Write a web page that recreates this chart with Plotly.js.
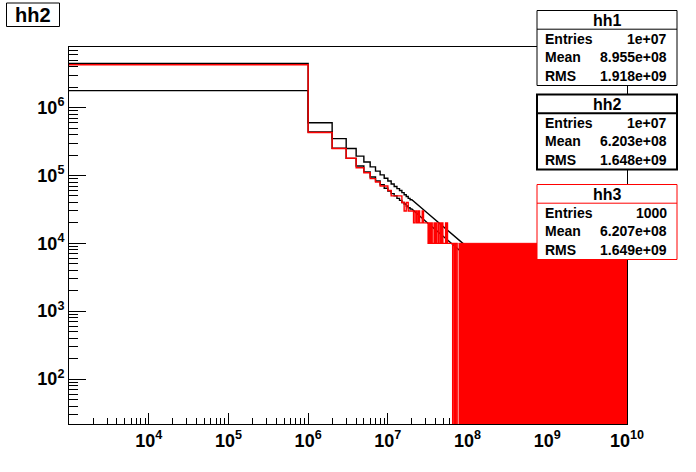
<!DOCTYPE html>
<html><head><meta charset="utf-8">
<script src="https://cdn.plot.ly/plotly-3.0.1.min.js"></script>
<style>html,body{margin:0;padding:0;background:#fff;} #chart{width:696px;height:472px;}</style>
</head><body><div id="chart"></div>
<script>
// ---------------- data ----------------
const BIN_WIDTH = 1e6;               // histogram bin width (bins start at 0)
// hh1: per-bin contents for the first 20 bins, then the fine staircase tail
const hh1Bins = [1.78e6, 6.0e5, 3.5e5, 2.5e5, 1.93e5, 1.58e5, 1.34e5, 1.16e5, 1.02e5, 9.1e4,
                 8.3e4, 7.5e4, 6.9e4, 6.4e4, 6.0e4, 5.6e4, 5.2e4, 4.9e4, 4.6e4, 4.4e4];
const hh1TailX = [3e7, 4e7, 5e7, 6e7, 8e7, 1e8, 1.3e8];
const hh1TailY = [2.93e4, 2.19e4, 1.75e4, 1.46e4, 1.09e4, 8.7e3, 6.7e3];
// hh2
const hh2Bins = [4.47e6, 4.37e5, 2.52e5, 1.79e5, 1.38e5, 1.13e5, 9.5e4, 8.3e4, 7.3e4, 6.5e4,
                 5.9e4, 5.4e4, 5.0e4, 4.6e4, 4.3e4, 4.0e4, 3.8e4, 3.55e4, 3.35e4, 3.2e4];
const hh2TailX = [3e7, 4e7, 5e7, 6e7, 8e7, 1e8, 1.3e8];
const hh2TailY = [2.1e4, 1.57e4, 1.25e4, 1.04e4, 7.8e3, 6.2e3, 4.8e3];
// hh3: per-bin contents (bins 1..77), zero bins drop to the frame bottom
const hh3Bins = [4.3e6, 4.3e5, 2.5e5, 1.8e5, 1.3e5, 1.1e5, 9e4, 8e4, 7e4, 7e4,
                 6e4, 5e4, 5e4, 5e4, 5e4, 4e4, 3e4, 4e4, 3e4, 3e4,
                 3e4, 2e4, 3e4, 2e4, 3e4, 2e4, 2e4, 3e4, 2e4, 2e4,
                 2e4, 2e4, 1e4, 2e4, 1e4, 2e4, 1e4, 1e4, 2e4, 1e4,
                 2e4, 1e4, 1e4, 2e4, 1e4, 1e4, 2e4, 1e4, 2e4, 1e4,
                 1e4, 1e4, 1e4, 2e4, 1e4, 2e4, 1e4, 1e4, 1e4, 1e4,
                 1e4, 1e4, 1e4, 1e4, 1e4, 0, 1e4, 1e4, 1e4, 0,
                 0, 1e4, 1e4, 1e4, 0, 0, 0];
// hh3 dense region (bins alternating 0 / 1e4, drawn solid)
const hh3DenseX = [7.7e7, 1e10];
const hh3DenseY = [1e4, 1e4];

const xTickVals = [1e4, 1e5, 1e6, 1e7, 1e8, 1e9, 1e10];
const xTickText = ['10<sup>4</sup>','10<sup>5</sup>','10<sup>6</sup>','10<sup>7</sup>','10<sup>8</sup>','10<sup>9</sup>','10<sup>10</sup>'];
const yTickVals = [1e2, 1e3, 1e4, 1e5, 1e6];
const yTickText = ['10<sup>2</sup>','10<sup>3</sup>','10<sup>4</sup>','10<sup>5</sup>','10<sup>6</sup>'];

const statNames   = ['hh1', 'hh2', 'hh3'];
const statEntries = ['1e+07', '1e+07', '1000'];
const statMeans   = ['8.955e+08', '6.203e+08', '6.207e+08'];
const statRMS     = ['1.918e+09', '1.648e+09', '1.649e+09'];
const statColors  = ['#000000', '#000000', '#ff0000'];
const statBorder  = [1, 2, 1];
const titleText = 'hh2';

// ---------------- layout constants ----------------
const W = 696, H = 472;
const M = {l: 69, r: 69, t: 47, b: 48};
const X_RANGE = [3, 10];
const Y_RANGE = [1.337, 6.894];
const X_MIN = Math.pow(10, X_RANGE[0]);
const Y_FLOOR = Math.pow(10, Y_RANGE[0] - 1);
const FONT = 'Liberation Sans, Arial, Helvetica, sans-serif';
const LW = 1.4;

function stepPath(values) {
  const xs = [], ys = [];
  values.forEach((v, i) => {
    const lo = i === 0 ? X_MIN : i * BIN_WIDTH;
    const hi = (i + 1) * BIN_WIDTH;
    const y = v > 0 ? v : Y_FLOOR;
    xs.push(lo, hi); ys.push(y, y);
  });
  return {xs, ys};
}
function withTail(p, tx, ty) {
  return {xs: p.xs.concat(tx), ys: p.ys.concat(ty)};
}

const p1 = withTail(stepPath(hh1Bins), hh1TailX, hh1TailY);
const p2 = withTail(stepPath(hh2Bins), hh2TailX, hh2TailY);
const p3 = stepPath(hh3Bins);

const traces = [
  {x: p2.xs, y: p2.ys, mode: 'lines', line: {color: '#000', width: LW}, hoverinfo: 'skip', name: 'hh2'},
  {x: p1.xs, y: p1.ys, mode: 'lines', line: {color: '#000', width: LW}, hoverinfo: 'skip', name: 'hh1'},
  {x: p3.xs, y: p3.ys, mode: 'lines', line: {color: '#ff0000', width: LW}, hoverinfo: 'skip', name: 'hh3'},
  {x: hh3DenseX, y: hh3DenseY, mode: 'lines', fill: 'tozeroy', fillcolor: '#ff0000',
   line: {color: '#ff0000', width: 1}, hoverinfo: 'skip', name: 'hh3 dense'}
];

// pixel -> paper helpers (layout only)
const pw = W - M.l - M.r, ph = H - M.t - M.b;
const PX = px => (px - M.l) / pw;
const PY = py => (H - M.b - py) / ph;

const shapes = [], annotations = [];
// title box
shapes.push({type: 'rect', xref: 'paper', yref: 'paper', x0: PX(6.5), x1: PX(59.5), y0: PY(26.5), y1: PY(3),
  line: {color: '#000', width: 1}, fillcolor: '#fff'});
annotations.push({xref: 'paper', yref: 'paper', x: PX(33), y: PY(15), text: titleText, showarrow: false,
  xanchor: 'center', yanchor: 'middle', font: {family: FONT, size: 20, weight: 'bold', color: '#000'}});

const boxTops = [10.5, 94.5, 184.5];
const boxX0 = 537, boxX1 = 677, boxH = 75, titleH = 18.7, rowH = (75 - 18.7) / 3;
statNames.forEach((nm, i) => {
  const t = boxTops[i], c = statColors[i];
  shapes.push({type: 'rect', xref: 'paper', yref: 'paper', x0: PX(boxX0), x1: PX(boxX1), y0: PY(t + boxH), y1: PY(t),
    line: {color: c, width: statBorder[i]}, fillcolor: '#fff'});
  shapes.push({type: 'line', xref: 'paper', yref: 'paper', x0: PX(boxX0), x1: PX(boxX1), y0: PY(t + titleH), y1: PY(t + titleH),
    line: {color: c, width: statBorder[i]}});
  annotations.push({xref: 'paper', yref: 'paper', x: PX((boxX0 + boxX1) / 2), y: PY(t + titleH / 2 + 1), text: nm,
    showarrow: false, xanchor: 'center', yanchor: 'middle', font: {family: FONT, size: 16, weight: 'bold', color: '#000'}});
  const labels = ['Entries', 'Mean', 'RMS'];
  const vals = [statEntries[i], statMeans[i], statRMS[i]];
  labels.forEach((lb, j) => {
    const yc = t + titleH + rowH * (j + 0.5);
    annotations.push({xref: 'paper', yref: 'paper', x: PX(boxX0 + 6), y: PY(yc), text: lb, showarrow: false,
      xanchor: 'left', yanchor: 'middle', font: {family: FONT, size: 14, weight: 'bold', color: '#000'}});
    annotations.push({xref: 'paper', yref: 'paper', x: PX(boxX1 - 8), y: PY(yc), text: vals[j], showarrow: false,
      xanchor: 'right', yanchor: 'middle', font: {family: FONT, size: 14, weight: 'bold', color: '#000'}});
  });
});

const tickFont = {family: FONT, size: 18, weight: 'bold', color: '#000'};
const layout = {
  width: W, height: H, margin: M, showlegend: false,
  paper_bgcolor: '#fff', plot_bgcolor: '#fff',
  xaxis: {type: 'log', range: X_RANGE, showgrid: false, zeroline: false,
    showline: true, mirror: true, linecolor: '#000', linewidth: 1, layer: 'below traces',
    tickmode: 'array', tickvals: xTickVals, ticktext: xTickText,
    ticks: 'inside', ticklen: 11, tickwidth: 1, tickcolor: '#000', tickfont: tickFont,
    minor: {ticks: 'inside', ticklen: 6, tickwidth: 1, tickcolor: '#000', dtick: 'D1', showgrid: false}},
  yaxis: {type: 'log', range: Y_RANGE, showgrid: false, zeroline: false,
    showline: true, mirror: true, linecolor: '#000', linewidth: 1, layer: 'below traces',
    tickmode: 'array', tickvals: yTickVals, ticktext: yTickText,
    ticks: 'inside', ticklen: 17, tickwidth: 1, tickcolor: '#000', tickfont: tickFont,
    minor: {ticks: 'inside', ticklen: 8.5, tickwidth: 1, tickcolor: '#000', dtick: 'D1', showgrid: false}},
  shapes: shapes, annotations: annotations
};
Plotly.newPlot('chart', traces, layout, {displayModeBar: false, staticPlot: true});
</script></body></html>
